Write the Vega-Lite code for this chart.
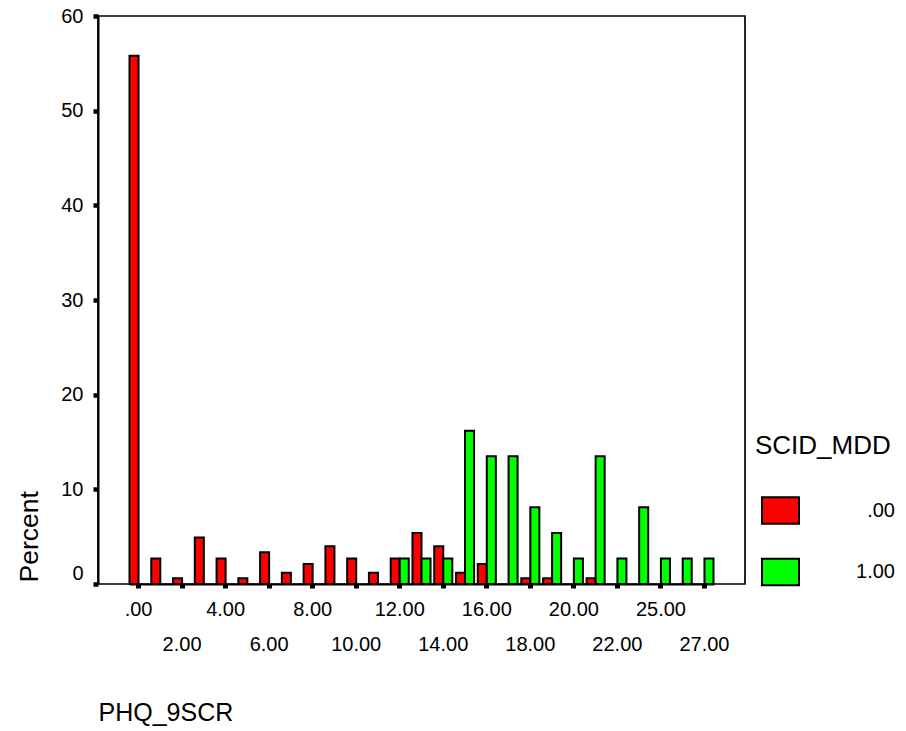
{
  "$schema": "https://vega.github.io/schema/vega-lite/v6.json",
  "width": 647,
  "height": 568,
  "autosize": {"type": "none"},
  "padding": {"left": 98, "top": 16, "right": 161, "bottom": 147},
  "background": "white",
  "config": {
    "font": "Liberation Sans",
    "view": {"stroke": "black", "strokeWidth": 1.7}
  },
  "data": {
    "values": [
      {"score": ".00", "group": ".00", "percent": 55.8},
      {"score": "1.00", "group": ".00", "percent": 2.7},
      {"score": "2.00", "group": ".00", "percent": 0.6},
      {"score": "3.00", "group": ".00", "percent": 4.9},
      {"score": "4.00", "group": ".00", "percent": 2.7},
      {"score": "5.00", "group": ".00", "percent": 0.6},
      {"score": "6.00", "group": ".00", "percent": 3.35},
      {"score": "7.00", "group": ".00", "percent": 1.2},
      {"score": "8.00", "group": ".00", "percent": 2.1},
      {"score": "9.00", "group": ".00", "percent": 4.0},
      {"score": "10.00", "group": ".00", "percent": 2.7},
      {"score": "11.00", "group": ".00", "percent": 1.2},
      {"score": "12.00", "group": ".00", "percent": 2.7},
      {"score": "13.00", "group": ".00", "percent": 5.4},
      {"score": "14.00", "group": ".00", "percent": 4.0},
      {"score": "15.00", "group": ".00", "percent": 1.2},
      {"score": "16.00", "group": ".00", "percent": 2.1},
      {"score": "18.00", "group": ".00", "percent": 0.6},
      {"score": "19.00", "group": ".00", "percent": 0.6},
      {"score": "21.00", "group": ".00", "percent": 0.6},
      {"score": "12.00", "group": "1.00", "percent": 2.7},
      {"score": "13.00", "group": "1.00", "percent": 2.7},
      {"score": "14.00", "group": "1.00", "percent": 2.7},
      {"score": "15.00", "group": "1.00", "percent": 16.2},
      {"score": "16.00", "group": "1.00", "percent": 13.5},
      {"score": "17.00", "group": "1.00", "percent": 13.5},
      {"score": "18.00", "group": "1.00", "percent": 8.1},
      {"score": "19.00", "group": "1.00", "percent": 5.4},
      {"score": "20.00", "group": "1.00", "percent": 2.7},
      {"score": "21.00", "group": "1.00", "percent": 13.5},
      {"score": "22.00", "group": "1.00", "percent": 2.7},
      {"score": "23.00", "group": "1.00", "percent": 8.1},
      {"score": "25.00", "group": "1.00", "percent": 2.7},
      {"score": "26.00", "group": "1.00", "percent": 2.7},
      {"score": "27.00", "group": "1.00", "percent": 2.7}
    ]
  },
  "mark": {"type": "bar", "stroke": "black", "strokeWidth": 2},
  "encoding": {
    "x": {
      "field": "score",
      "type": "nominal",
      "scale": {
        "domain": [".00","1.00","2.00","3.00","4.00","5.00","6.00","7.00","8.00","9.00","10.00","11.00","12.00","13.00","14.00","15.00","16.00","17.00","18.00","19.00","20.00","21.00","22.00","23.00","25.00","26.00","27.00"],
        "range": [31.5, 615.5],
        "paddingInner": 0.17,
        "paddingOuter": 0
      },
      "axis": {
        "title": "PHQ_9SCR",
        "values": [".00","2.00","4.00","6.00","8.00","10.00","12.00","14.00","16.00","18.00","20.00","22.00","25.00","27.00"],
        "labelAngle": 0,
        "labelFontSize": 20,
        "labelColor": "black",
        "labelBaseline": "top",
        "labelOverlap": false,
        "labelPadding": {"condition": {"test": "indexof(['2.00','6.00','10.00','14.00','18.00','22.00','27.00'], datum.value) >= 0", "value": 46}, "value": 11},
        "tickSize": 4,
        "tickWidth": 5,
        "tickColor": "black",
        "domainColor": "black",
        "domainWidth": 2,
        "grid": false,
        "titleFontSize": 25,
        "titleFontWeight": "normal",
        "titleColor": "black",
        "titleX": 0,
        "titleY": 136,
        "titleAlign": "left",
        "titleBaseline": "alphabetic"
      }
    },
    "xOffset": {"field": "group", "type": "nominal", "scale": {"domain": [".00", "1.00"]}},
    "y": {
      "field": "percent",
      "type": "quantitative",
      "scale": {"domain": [0, 60]},
      "axis": {
        "title": "Percent",
        "values": [0, 10, 20, 30, 40, 50, 60],
        "tickSize": 5,
        "tickWidth": 4.5,
        "tickColor": "black",
        "domainColor": "black",
        "domainWidth": 2,
        "grid": false,
        "labelFontSize": 20,
        "labelColor": "black",
        "labelPadding": 10,
        "labelOffset": {"condition": {"test": "datum.value === 0", "value": -11}, "value": 0},
        "titleFontSize": 26.5,
        "titleFontWeight": "normal",
        "titleColor": "black",
        "titleX": -61,
        "titleY": 566,
        "titleAngle": 270,
        "titleAlign": "left",
        "titleBaseline": "alphabetic"
      }
    },
    "color": {
      "field": "group",
      "type": "nominal",
      "scale": {"domain": [".00", "1.00"], "range": ["#ff0000", "#00ff00"]},
      "legend": {
        "title": "SCID_MDD",
        "orient": "none",
        "legendX": 657,
        "legendY": 417,
        "titleFontSize": 26,
        "titleFontWeight": "normal",
        "titleColor": "black",
        "titlePadding": 32,
        "symbolType": "M-1,-0.72L1,-0.72L1,0.72L-1,0.72Z",
        "symbolSize": 1369,
        "symbolStrokeColor": "black",
        "symbolStrokeWidth": 2,
        "symbolOffset": 6,
        "symbolOpacity": 1,
        "labelFontSize": 20,
        "labelColor": "black",
        "labelAlign": "right",
        "labelOffset": 95,
        "rowPadding": 24.5
      }
    }
  }
}
